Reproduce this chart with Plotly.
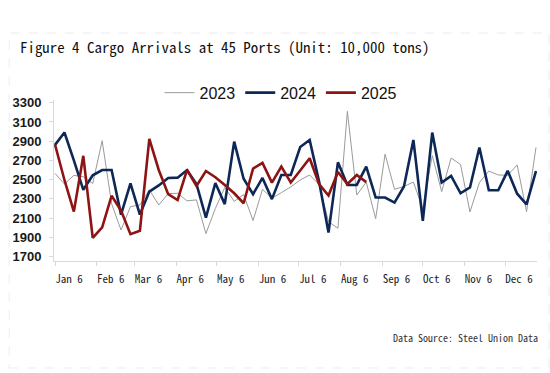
import pandas as pd
import plotly.graph_objects as go

# ---------------- data (weekly, unit: 10,000 tons) ----------------
weeks = pd.date_range("2023-01-01", periods=52, freq="7D")

y2023 = [2566, 2455, 2545, 2530, 2460, 2905, 2250, 1977, 2220, 2237,
         2395, 2237, 2355, 2359, 2280, 2290, 1940, 2200, 2420, 2275,
         2345, 2075, 2400, 2307, 2365, 2425, 2497, 2549, 2450, 2064,
         1995, 3210, 2341, 2475, 2095, 2765, 2400, 2430, 2475, 2200,
         2750, 2376, 2725, 2658, 2165, 2470, 2590, 2549, 2545, 2653,
         2168, 2835]

y2024 = [2861, 2990, 2700, 2395, 2545, 2600, 2600, 2137, 2462, 2137,
         2376, 2440, 2518, 2521, 2600, 2455, 2105, 2465, 2246, 2895,
         2510, 2350, 2518, 2298, 2549, 2549, 2840, 2912, 2480, 1950,
         2680, 2445, 2445, 2635, 2315, 2315, 2262, 2430, 2913, 2073,
         2990, 2470, 2540, 2359, 2419, 2835, 2390, 2390, 2592, 2354,
         2244, 2590]

y2025 = [2865, 2497, 2168, 2748, 1895, 2005, 2333, 2180, 1934, 1969,
         2925, 2601, 2350, 2289, 2601, 2435, 2590, 2525, 2445, 2359,
         2255, 2615, 2675, 2470, 2636, 2470, 2595, 2722, 2455, 2335,
         2580, 2455, 2549, 2475]

month_starts = pd.date_range("2023-01-01", periods=12, freq="MS")
month_labels = ["Jan 6", "Feb 6", "Mar 6", "Apr 6", "May 6", "Jun 6",
                "Jul 6", "Aug 6", "Sep 6", "Oct 6", "Nov 6", "Dec 6"]
y_ticks = [1700, 1900, 2100, 2300, 2500, 2700, 2900, 3100, 3300]

title_text = "Figure 4 Cargo Arrivals at 45 Ports (Unit: 10,000 tons)"
source_text = "Data Source: Steel Union Data"

# ---------------- figure ----------------
MONO = "Noto Sans Mono CJK SC, Noto Sans CJK SC, DejaVu Sans Mono, monospace"

fig = go.Figure()
fig.add_trace(go.Scatter(x=weeks, y=y2023, mode="lines", name="2023",
                         line=dict(color="#9a9a9a", width=1)))
fig.add_trace(go.Scatter(x=weeks, y=y2024, mode="lines", name="2024",
                         line=dict(color="#0d2756", width=2.6)))
fig.add_trace(go.Scatter(x=weeks[:len(y2025)], y=y2025, mode="lines", name="2025",
                         line=dict(color="#8e1414", width=2.6)))

fig.update_layout(
    width=550, height=373,
    margin=dict(l=52, r=13, t=100, b=112),
    paper_bgcolor="white", plot_bgcolor="white",
    title=dict(text=title_text, x=20 / 550, xanchor="left",
               y=1 - 48 / 373, yanchor="middle",
               font=dict(family=MONO, size=14.9, color="#111111")),
    legend=dict(orientation="h", x=0.47, xanchor="center",
                y=1.045, yanchor="middle",
                font=dict(family="Liberation Sans, Arial, sans-serif", size=16,
                          color="#111111"),
                itemwidth=30, tracegroupgap=0, bgcolor="rgba(0,0,0,0)"),
    showlegend=True,
)

fig.update_xaxes(
    type="date",
    range=["2022-12-31 06:00", "2023-12-24 18:00"],
    tickvals=month_starts, ticktext=month_labels,
    ticks="outside", ticklen=4, tickcolor="#d9d9d9",
    showline=True, linecolor="#d9d9d9", linewidth=1,
    showgrid=False, zeroline=False,
    ticklabelshift=14, ticklabelstandoff=4,
    tickfont=dict(family=MONO, size=11, color="#222222"),
)
fig.update_yaxes(
    range=[1655, 3328],
    tickvals=y_ticks,
    ticks="outside", ticklen=4, tickcolor="#d9d9d9",
    showline=True, linecolor="#d9d9d9", linewidth=1,
    showgrid=False, zeroline=False,
    ticklabelstandoff=5,
    tickfont=dict(family="Liberation Sans, Arial, sans-serif", size=13,
                  color="#1a1a1a", weight="bold"),
)

# faint dashed frame around the figure block
fig.add_shape(type="rect", xref="paper", yref="paper",
              x0=(7 - 52) / 485, x1=(549 - 52) / 485,
              y0=(261 - 368) / 161, y1=(261 - 33) / 161,
              line=dict(color="#ececec", width=1, dash="dash"),
              fillcolor="rgba(0,0,0,0)", layer="below")

fig.add_annotation(text=source_text, xref="paper", yref="paper",
                   x=(540 - 52) / 485, xanchor="right",
                   y=(261 - 337) / 161, yanchor="middle",
                   showarrow=False,
                   font=dict(family=MONO, size=10, color="#333333"))

fig.write_html("out.html",
               config={"displayModeBar": False},
               post_script="document.body.style.margin='0px';"
                           "document.body.style.overflow='hidden';")
